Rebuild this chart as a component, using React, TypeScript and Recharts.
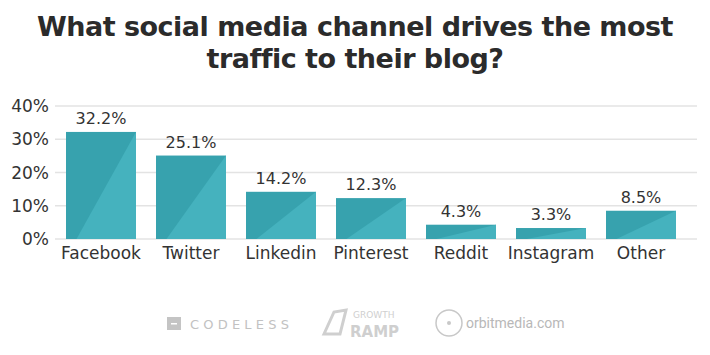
import React from "react";
import { BarChart, Bar, XAxis, YAxis, CartesianGrid, LabelList } from "recharts";

const categories = ["Facebook", "Twitter", "Linkedin", "Pinterest", "Reddit", "Instagram", "Other"];
const shares = [32.2, 25.1, 14.2, 12.3, 4.3, 3.3, 8.5];
const yTicks = [0, 10, 20, 30, 40];

const data = categories.map((name, i) => ({ name, value: shares[i] }));

const FONT = "'DejaVu Sans', sans-serif";

const BarShape = (props: any) => {
  const { x, y, width, height } = props;
  if (!height || height <= 0) return null;
  return (
    <g>
      <rect x={x} y={y} width={width} height={height} fill="#37a2ae" />
      <polygon
        points={`${x + width * 0.15},${y + height} ${x + width},${y} ${x + width},${y + height}`}
        fill="#45b2be"
      />
    </g>
  );
};

export default function App() {
  return (
    <div style={{ position: "absolute", left: 0, top: 0, width: 710, height: 355, background: "#fff", fontFamily: FONT }}>
      <div
        style={{
          position: "absolute",
          left: 0,
          top: 11,
          width: 710,
          textAlign: "center",
          fontFamily: FONT,
          fontWeight: 700,
          fontSize: 27,
          lineHeight: "32px",
          color: "#2b2b2b",
          letterSpacing: -0.5,
        }}
      >
        What social media channel drives the most
        <br />
        traffic to their blog?
      </div>
      <BarChart
        width={710}
        height={355}
        data={data}
        margin={{ top: 106, right: 13, left: 0, bottom: 86 }}
        barCategoryGap={20}
      >
        <CartesianGrid vertical={false} stroke="#e3e3e3" strokeWidth={1.5} />
        <XAxis
          dataKey="name"
          axisLine={false}
          tickLine={false}
          height={30}
          padding={{ left: 1, right: 11 }}
          tick={{ fill: "#333", fontSize: 17, fontFamily: FONT }}
          tickMargin={2}
          interval={0}
        />
        <YAxis
          width={55}
          domain={[0, 40]}
          ticks={yTicks}
          axisLine={false}
          tickLine={false}
          tickSize={0}
          tickMargin={6}
          tickFormatter={(v: number) => `${v}%`}
          tick={{ fill: "#333", fontSize: 17, fontFamily: FONT }}
        />
        <Bar dataKey="value" barSize={70} shape={<BarShape />} isAnimationActive={false}>
          <LabelList
            dataKey="value"
            position="top"
            offset={8}
            formatter={(v: number) => `${v.toFixed(1)}%`}
            style={{ fill: "#333", fontSize: 16, fontFamily: FONT }}
          />
        </Bar>
      </BarChart>
      <svg width={710} height={60} style={{ position: "absolute", left: 0, top: 300 }}>
        <rect x={167} y={17} width={14} height={13} fill="#c4c4c4" />
        <rect x={171} y={23} width={6} height={1.5} fill="#fff" />
        <text x={190} y={29} fill="#c2c2c2" fontSize={13} fontFamily={FONT} letterSpacing={4.2}>
          CODELESS
        </text>
        <path d="M324 34 L334 12 L346 10 L340 34 Z" fill="none" stroke="#cfcfcf" strokeWidth={3} />
        <text x={353} y={18} fill="#cfcfcf" fontSize={9} fontFamily={FONT}>
          GROWTH
        </text>
        <text x={350} y={37} fill="#cfcfcf" fontSize={15} fontWeight={700} fontFamily={FONT}>
          RAMP
        </text>
        <circle cx={449} cy={23} r={13} fill="none" stroke="#c8c8c8" strokeWidth={1.5} />
        <circle cx={449} cy={23} r={2} fill="#c8c8c8" />
        <text x={466} y={28} fill="#b8b8b8" fontSize={14} fontFamily="'Liberation Sans Narrow', 'Roboto', sans-serif">
          orbitmedia.com
        </text>
      </svg>
    </div>
  );
}
